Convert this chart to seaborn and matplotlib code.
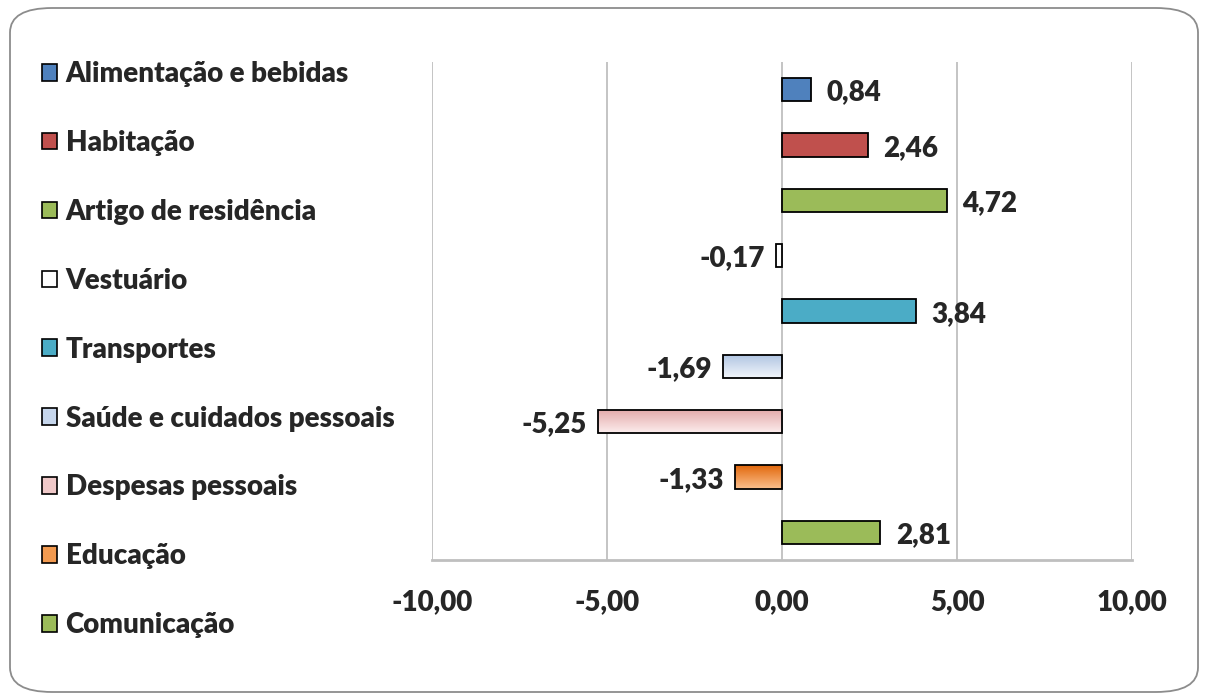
import numpy as np
import pandas as pd
import matplotlib
matplotlib.use("Agg")
import matplotlib.pyplot as plt
import seaborn as sns
from matplotlib.patches import Patch, FancyBboxPatch
from matplotlib.colors import to_rgb

categories = ["Alimentação e bebidas", "Habitação", "Artigo de residência", "Vestuário",
              "Transportes", "Saúde e cuidados pessoais", "Despesas pessoais", "Educação",
              "Comunicação"]
values = [0.84, 2.46, 4.72, -0.17, 3.84, -1.69, -5.25, -1.33, 2.81]
value_labels = ["0,84", "2,46", "4,72", "-0,17", "3,84", "-1,69", "-5,25", "-1,33", "2,81"]
tick_values = [-10, -5, 0, 5, 10]
tick_labels = ["-10,00", "-5,00", "0,00", "5,00", "10,00"]

colors = ["#4F81BD", "#C0504D", "#9BBB59", "#FFFFFF", "#4BACC6",
          "#C6D6EC", "#EFC8C8", "#F29A50", "#9BBB59"]
gradients = {5: ("#AFC4E2", "#F2F6FB"), 6: ("#E3A9A9", "#FCEDED"), 7: ("#E2680C", "#FBC08E")}

FS = 20
W = "heavy"

sns.set_theme(style="white")
plt.rcParams['font.family'] = ['Lato', 'DejaVu Sans']
plt.rcParams['font.weight'] = W

fig = plt.figure(figsize=(12.06, 7.0), dpi=100)
ax = fig.add_axes([432/1206, 1-560/700, 700/1206, 498/700])

df = pd.DataFrame({"cat": categories, "val": values})
sns.barplot(data=df, x="val", y="cat", hue="cat", palette=colors, orient="h",
            saturation=1, width=0.42, edgecolor="black", linewidth=1.3,
            legend=False, ax=ax, zorder=3)

ax.set_xlim(-10, 10)
ax.set_ylim(len(categories) - 0.5, -0.5)

# gradient fills
for i, (c_top, c_bot) in gradients.items():
    p = ax.patches[i]
    p.set_facecolor("none")
    x0, y0, w, h = p.get_x(), p.get_y(), p.get_width(), p.get_height()
    t, b = np.array(to_rgb(c_top)), np.array(to_rgb(c_bot))
    n = 64
    fr = np.linspace(0, 1, n)[:, None]
    grad = (t[None, :] * (1 - fr) + b[None, :] * fr)[:, None, :]
    im = ax.imshow(grad, extent=[x0, x0 + w, y0 + h, y0], origin="upper",
                   aspect="auto", zorder=2.9, interpolation="bilinear")
    im.set_clip_path(p)
ax.set_xlim(-10, 10)
ax.set_ylim(len(categories) - 0.5, -0.5)

ax.set_xticks(tick_values)
ax.set_xticklabels(tick_labels, fontsize=FS, fontweight=W)
ax.tick_params(axis="x", length=0, pad=21)
ax.set_yticks([])
ax.set_xlabel("")
ax.set_ylabel("")
ax.grid(axis="x", color="#BFBFBF", linewidth=1.3, zorder=0)
ax.set_axisbelow(True)
for s in ["top", "right", "left"]:
    ax.spines[s].set_visible(False)
ax.spines["bottom"].set_color("#BFBFBF")
ax.spines["bottom"].set_linewidth(2)

for i, (v, lab) in enumerate(zip(values, value_labels)):
    if v >= 0:
        ax.annotate(lab, (v, i), xytext=(11, -2), textcoords="offset points",
                    ha="left", va="center", fontsize=FS, fontweight=W)
    else:
        ax.annotate(lab, (v, i), xytext=(-8, -2), textcoords="offset points",
                    ha="right", va="center", fontsize=FS, fontweight=W)

handles = [Patch(facecolor=c, edgecolor="black", linewidth=1.2) for c in colors]
fig.legend(handles, categories, loc="upper left", bbox_to_anchor=(42/1206, 1-61/700),
           frameon=False, prop={"weight": W, "size": FS},
           handlelength=0.55, handleheight=0.55, handletextpad=0.3,
           labelspacing=1.545, borderaxespad=0, borderpad=0)

border = FancyBboxPatch((10/1206, 8/700), 1188/1206, 684/700,
                        boxstyle="round,pad=0,rounding_size=0.035",
                        transform=fig.transFigure, facecolor="none",
                        edgecolor="#8C8C8C", linewidth=1.3)
fig.patches.append(border)

fig.savefig("out.png", dpi=100)
